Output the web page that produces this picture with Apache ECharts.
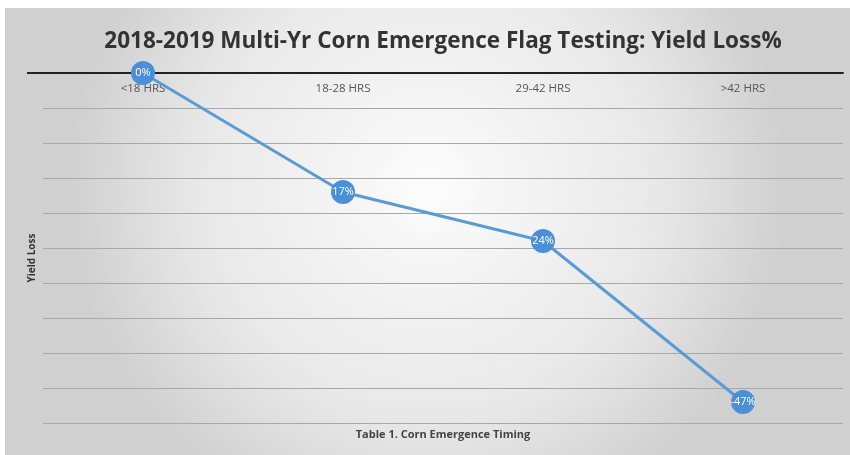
<!DOCTYPE html>
<html>
<head>
<meta charset="utf-8">
<script src="https://cdn.jsdelivr.net/npm/echarts@6/dist/echarts.min.js"></script>
<style>
  html, body { margin: 0; padding: 0; background: #fff; }
  #chart { position: absolute; left: 5px; top: 8px; width: 845px; height: 447px; }
</style>
</head>
<body>
<div id="chart"></div>
<script>
// categories and values
var timings = ['<18 HRS', '18-28 HRS', '29-42 HRS', '>42 HRS']
var yieldLoss = [0, -17, -24, -47]
var pointLabels = ['0%', '17%', '24%', '-47%']

var chart = echarts.init(document.getElementById('chart'))
chart.setOption({
  backgroundColor: {
    type: 'radial',
    x: 0.5, y: 0.4, r: 0.8,
    colorStops: [
      { offset: 0, color: '#fcfcfc' },
      { offset: 0.65, color: '#e8e8e8' },
      { offset: 1, color: '#d0d0d0' }
    ]
  },
  title: [
    {
      text: '2018-2019 Multi-Yr Corn Emergence Flag Testing: Yield Loss%',
      left: 433,
      top: 17,
      textAlign: 'center',
      textStyle: { fontFamily: 'Open Sans', fontSize: 22.5, fontWeight: 'bold', color: '#333' }
    },
    {
      text: 'Table 1. Corn Emergence Timing',
      left: 433,
      top: 416,
      textAlign: 'center',
      textStyle: { fontFamily: 'Open Sans', fontSize: 11, fontWeight: 'bold', color: '#444' }
    }
  ],
  graphic: [{
    // the zero line runs a little past the plot on the left
    type: 'line',
    shape: { x1: 22, y1: 65, x2: 38, y2: 65 },
    style: { stroke: '#222', lineWidth: 2 }
  }],
  grid: { left: 38, right: 7, top: 65, bottom: 32 },
  xAxis: {
    type: 'category',
    position: 'top',
    data: timings,
    axisLine: { lineStyle: { color: '#222', width: 2 } },
    axisTick: { show: false },
    axisLabel: { inside: true, margin: 10, fontFamily: 'Open Sans', fontSize: 11.5, color: '#555' }
  },
  yAxis: {
    type: 'value',
    min: -50,
    max: 0,
    interval: 5,
    name: 'Yield Loss',
    nameLocation: 'middle',
    nameGap: 6,
    nameTextStyle: { fontFamily: 'Open Sans', fontSize: 10, fontWeight: 'bold', color: '#333', padding: [0, 20, 0, 0] },
    axisLine: { show: false },
    axisTick: { show: false },
    axisLabel: { show: false },
    splitLine: { lineStyle: { color: '#a8a8a8', width: 1 } }
  },
  series: [{
    type: 'line',
    data: yieldLoss,
    symbol: 'circle',
    symbolSize: 24,
    lineStyle: { color: '#5b9bd5', width: 3 },
    itemStyle: { color: '#4a8fd8' },
    label: {
      show: true,
      position: 'inside',
      color: '#fff',
      fontFamily: 'Open Sans',
      fontSize: 11,
      formatter: function (p) { return pointLabels[p.dataIndex] }
    }
  }]
})
</script>
</body>
</html>
